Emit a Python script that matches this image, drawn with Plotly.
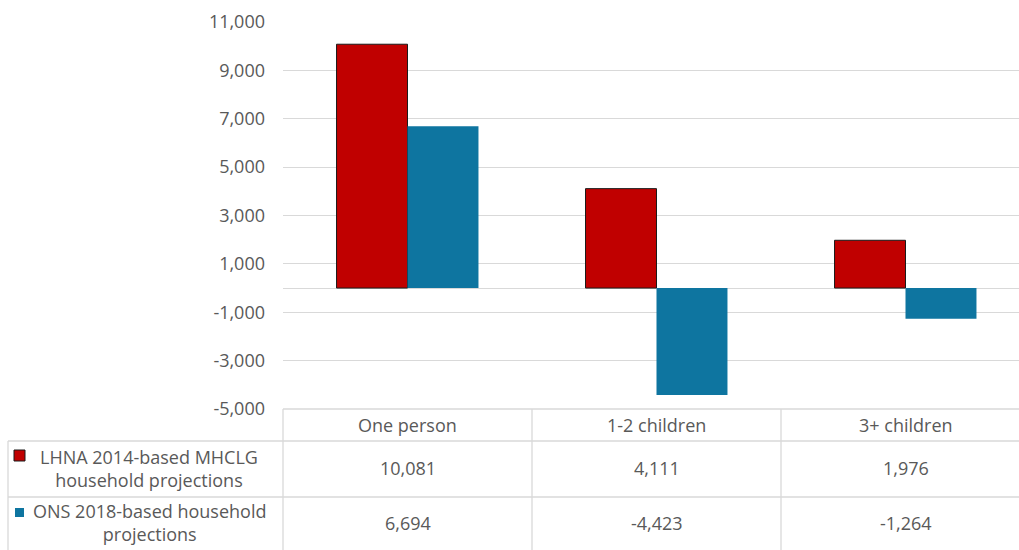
import plotly.graph_objects as go

categories = ["One person", "1-2 children", "3+ children"]
series_names = ["LHNA 2014-based MHCLG<br>household projections",
                "ONS 2018-based household<br>projections"]
lhna_values = [10081, 4111, 1976]
ons_values = [6694, -4423, -1264]
y_ticks = [-5000, -3000, -1000, 1000, 3000, 5000, 7000, 9000, 11000]

RED = "#C00000"
BLUE = "#0E75A0"
GRID = "#D9D9D9"
TXT = "#595959"
FONT = "Open Sans"
FS = 18

W, H = 1019, 550
L, R, T, B = 283, 0, 22, 141
plot_w = W - L - R
plot_h = H - T - B
cat_px = 249.0


def px_x(x):
    return (x - L) / plot_w


def px_y(y):
    return (H - B - y) / plot_h


fig = go.Figure()
fig.add_trace(go.Bar(x=categories, y=lhna_values, name="LHNA",
                     marker=dict(color=RED, line=dict(color="#1a1a1a", width=1))))
fig.add_trace(go.Bar(x=categories, y=ons_values, name="ONS",
                     marker=dict(color=BLUE, line=dict(color=BLUE, width=0))))

shapes = []
line = dict(color=GRID, width=1.3)
# table horizontal lines
shapes.append(dict(type="line", xref="paper", yref="paper", x0=0, x1=1,
                   y0=px_y(409), y1=px_y(409), line=line))
for yy in (441, 497):
    shapes.append(dict(type="line", xref="paper", yref="paper", x0=px_x(8), x1=1,
                       y0=px_y(yy), y1=px_y(yy), line=line))
# vertical lines
shapes.append(dict(type="line", xref="paper", yref="paper", x0=px_x(8), x1=px_x(8),
                   y0=px_y(441), y1=px_y(552), line=line))
shapes.append(dict(type="line", xref="paper", yref="paper", x0=0, x1=0,
                   y0=px_y(409), y1=px_y(552), line=line))
for xc in (0.5, 1.5):
    shapes.append(dict(type="line", xref="x", yref="paper", x0=xc, x1=xc,
                       y0=px_y(409), y1=px_y(552), line=line))
# legend keys
shapes.append(dict(type="rect", xref="paper", yref="paper",
                   x0=px_x(14), x1=px_x(25), y0=px_y(461), y1=px_y(450),
                   fillcolor=RED, line=dict(color="#1a1a1a", width=1)))
shapes.append(dict(type="rect", xref="paper", yref="paper",
                   x0=px_x(15), x1=px_x(24), y0=px_y(517), y1=px_y(508),
                   fillcolor=BLUE, line=dict(width=0)))

fnt = dict(family=FONT, size=FS, color=TXT)
annotations = []
for i, c in enumerate(categories):
    for txt, yc in ((c, 425), (f"{lhna_values[i]:,}", 468.5), (f"{ons_values[i]:,}", 523)):
        annotations.append(dict(x=i, xref="x", y=px_y(yc), yref="paper", text=txt,
                                xanchor="center", yanchor="middle",
                                showarrow=False, font=fnt))
for name, yc in zip(series_names, (468.5, 522.5)):
    annotations.append(dict(x=px_x(149), xref="paper", y=px_y(yc), yref="paper", text=name,
                            xanchor="center", yanchor="middle",
                            showarrow=False, align="center", font=fnt))

fig.update_layout(
    width=W, height=H,
    margin=dict(l=L, r=R, t=T, b=B),
    paper_bgcolor="white", plot_bgcolor="white",
    barmode="group", bargap=0.43, bargroupgap=0,
    showlegend=False,
    font=fnt,
    xaxis=dict(type="category", range=[-0.5, -0.5 + plot_w / cat_px],
               showticklabels=False, showgrid=False, zeroline=False, showline=False,
               ticks=""),
    yaxis=dict(range=[-5000, 11000], tickvals=y_ticks,
               ticktext=[f"{v:,}" for v in y_ticks],
               showgrid=True, gridcolor=GRID, gridwidth=1.3,
               zeroline=True, zerolinecolor=GRID, zerolinewidth=1.3,
               showline=False, ticks="", ticklabelstandoff=17,
               tickfont=fnt),
    shapes=shapes,
    annotations=annotations,
)

fig.write_html("out.html")
